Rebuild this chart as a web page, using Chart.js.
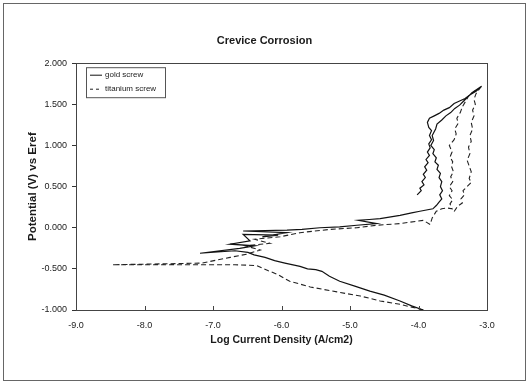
<!DOCTYPE html>
<html>
<head>
<meta charset="utf-8">
<script src="https://cdn.jsdelivr.net/npm/chart.js@4/dist/chart.umd.min.js"></script>
<style>
  html, body { margin: 0; padding: 0; background: #fff; }
  #wrap { width: 529px; height: 384px; }
</style>
</head>
<body>
<div id="wrap"><canvas id="chart" width="529" height="384"></canvas></div>
<script>
// log current density (A/cm2) and potential (V) for each scan
const goldLogI = [-3.93, -4.10, -4.27, -4.50, -4.71, -4.93, -5.15, -5.30, -5.41, -5.50, -5.62, -5.73, -5.95, -6.10,
  -6.24, -6.40, -6.49, -6.68, -7.19, -6.61, -6.39, -6.75, -6.46, -6.56, -6.05, -6.28, -5.92, -6.56, -5.92, -5.70,
  -5.44, -5.15, -4.90, -4.61, -4.88, -4.72, -4.56, -4.27, -4.10, -3.98, -3.79,
  -3.74, -3.70, -3.66, -3.69, -3.65, -3.68, -3.66, -3.70, -3.68, -3.73, -3.71, -3.76, -3.74, -3.79, -3.77, -3.82,
  -3.78, -3.80, -3.75, -3.73, -3.66, -3.60, -3.53, -3.47, -3.40, -3.34, -3.28, -3.22, -3.15, -3.08,
  -3.16, -3.24, -3.32, -3.40, -3.48, -3.55, -3.63, -3.70, -3.77, -3.84, -3.87, -3.85, -3.81, -3.84, -3.81, -3.85,
  -3.83, -3.87, -3.84, -3.89, -3.86, -3.91, -3.88, -3.93, -3.90, -3.95, -3.92, -3.98, -3.96, -4.02];
const goldE = [-1.00, -0.95, -0.89, -0.82, -0.77, -0.71, -0.65, -0.59, -0.53, -0.51, -0.50, -0.47, -0.43, -0.40,
  -0.36, -0.33, -0.30, -0.28, -0.31, -0.25, -0.22, -0.20, -0.16, -0.08, -0.09, -0.11, -0.06, -0.04, -0.03, -0.02,
  0.00, 0.01, 0.03, 0.05, 0.09, 0.10, 0.11, 0.15, 0.18, 0.20, 0.23,
  0.27, 0.31, 0.35, 0.40, 0.45, 0.50, 0.56, 0.61, 0.66, 0.71, 0.76, 0.80, 0.85, 0.90, 0.95, 1.00,
  1.06, 1.12, 1.20, 1.26, 1.31, 1.36, 1.40, 1.45, 1.49, 1.54, 1.59, 1.64, 1.68, 1.72,
  1.66, 1.62, 1.57, 1.54, 1.51, 1.46, 1.43, 1.39, 1.36, 1.33, 1.28, 1.22, 1.18, 1.12, 1.07, 1.02,
  0.97, 0.92, 0.88, 0.83, 0.79, 0.74, 0.70, 0.65, 0.61, 0.56, 0.52, 0.48, 0.45, 0.40];

const titLogI = [-3.93, -4.27, -4.56, -4.85, -5.19, -5.58, -5.88, -5.95, -6.05, -6.20, -6.36, -6.68, -7.30, -8.47,
  -7.16, -6.75, -6.50, -6.31, -6.53, -6.17, -6.39, -6.02, -5.73, -5.29, -4.90, -4.61, -4.27, -3.93, -3.83,
  -3.80, -3.74, -3.66, -3.58, -3.51, -3.54, -3.50, -3.55, -3.51, -3.55, -3.50, -3.53, -3.49, -3.52, -3.50, -3.54,
  -3.51, -3.55, -3.48, -3.45, -3.47, -3.42, -3.44, -3.39, -3.36, -3.31, -3.27, -3.18, -3.10,
  -3.16, -3.19, -3.17, -3.21, -3.19, -3.23, -3.21, -3.25, -3.23, -3.27, -3.25, -3.29, -3.26, -3.23, -3.26, -3.23,
  -3.29, -3.35, -3.33, -3.38, -3.36, -3.43, -3.47, -3.50];
const titE = [-1.00, -0.93, -0.89, -0.83, -0.78, -0.72, -0.65, -0.62, -0.57, -0.52, -0.46, -0.45, -0.45, -0.45,
  -0.43, -0.36, -0.32, -0.27, -0.22, -0.19, -0.14, -0.11, -0.06, -0.02, 0.00, 0.03, 0.05, 0.09, 0.04,
  0.12, 0.20, 0.23, 0.24, 0.23, 0.29, 0.34, 0.39, 0.45, 0.50, 0.56, 0.62, 0.68, 0.75, 0.80, 0.86,
  0.92, 1.00, 1.07, 1.14, 1.20, 1.27, 1.33, 1.40, 1.47, 1.54, 1.60, 1.66, 1.70,
  1.63, 1.56, 1.50, 1.43, 1.36, 1.28, 1.20, 1.12, 1.05, 0.98, 0.90, 0.82, 0.75, 0.68, 0.60, 0.55,
  0.50, 0.45, 0.40, 0.35, 0.30, 0.26, 0.21, 0.17];

const seriesNames = ["gold screw", "titanium screw"];
const xTicks = [-9, -8, -7, -6, -5, -4, -3];
const yTicks = [-1, -0.5, 0, 0.5, 1, 1.5, 2];

function toPoints(xs, ys) {
  return xs.map((x, i) => ({ x: x, y: ys[i] }));
}

const FONT = "'Liberation Sans', Arial, sans-serif";
const INK = "#1a1a1a";

// frame round the whole figure, plot border and the inward x tick marks
const framePlugin = {
  id: "frame",
  beforeDraw(chart) {
    const c = chart.ctx;
    c.save();
    c.fillStyle = "#fff";
    c.fillRect(0, 0, chart.width, chart.height);
    c.strokeStyle = "#666";
    c.lineWidth = 1;
    c.strokeRect(3.5, 3.5, chart.width - 7, chart.height - 7);
    c.restore();
  },
  afterDatasetsDraw(chart) {
    const a = chart.chartArea;
    const c = chart.ctx;
    const xs = chart.scales.x;
    c.save();
    c.strokeStyle = "#444";
    c.lineWidth = 1;
    c.strokeRect(Math.round(a.left) + 0.5, Math.round(a.top) + 0.5,
      Math.round(a.right - a.left), Math.round(a.bottom - a.top));
    c.beginPath();
    xTicks.forEach(v => {
      const px = Math.round(xs.getPixelForValue(v)) + 0.5;
      c.moveTo(px, a.bottom);
      c.lineTo(px, a.bottom - 4);
    });
    c.stroke();
    c.restore();
  }
};

// centre the title on the whole canvas rather than the padded box
const titleCentre = {
  id: "titleCentre",
  afterLayout(chart) {
    const t = chart.titleBlock;
    if (!t) return;
    t.left = 0;
    t.right = chart.width;
    t.width = chart.width;
  }
};

// boxed legend in the top left corner of the plot
const boxLegend = {
  id: "boxLegend",
  afterDraw(chart) {
    const c = chart.ctx;
    const a = chart.chartArea;
    const x0 = a.left + 10, y0 = a.top + 4, w = 79, h = 30;
    c.save();
    c.fillStyle = "#fff";
    c.fillRect(x0, y0, w, h);
    c.strokeStyle = "#555";
    c.lineWidth = 1;
    c.strokeRect(x0 + 0.5, y0 + 0.5, w, h);
    c.font = "8px " + FONT;
    c.textBaseline = "middle";
    chart.data.datasets.forEach((ds, i) => {
      const yy = y0 + 8 + i * 14;
      c.strokeStyle = ds.borderColor;
      c.lineWidth = 1;
      c.setLineDash(ds.borderDash ? [3, 3] : []);
      c.beginPath();
      c.moveTo(x0 + 4, yy);
      c.lineTo(x0 + 16, yy);
      c.stroke();
      c.setLineDash([]);
      c.fillStyle = INK;
      c.fillText(ds.label, x0 + 19, yy);
    });
    c.restore();
  }
};

new Chart(document.getElementById("chart"), {
  type: "scatter",
  data: {
    datasets: [
      {
        label: seriesNames[0],
        data: toPoints(goldLogI, goldE),
        showLine: true,
        borderColor: "#111",
        borderWidth: 1.2,
        pointRadius: 0,
        tension: 0
      },
      {
        label: seriesNames[1],
        data: toPoints(titLogI, titE),
        showLine: true,
        borderColor: "#222",
        borderWidth: 1.1,
        borderDash: [5, 3],
        pointRadius: 0,
        tension: 0
      }
    ]
  },
  options: {
    responsive: false,
    animation: false,
    layout: { padding: { left: 22, right: 42, top: 30, bottom: 34 } },
    plugins: {
      legend: { display: false },
      tooltip: { enabled: false },
      title: {
        display: true,
        text: "Crevice Corrosion",
        color: INK,
        font: { family: FONT, size: 11, weight: "bold" },
        padding: { top: 4, bottom: 16 }
      }
    },
    scales: {
      x: {
        type: "linear",
        min: -9,
        max: -3,
        afterBuildTicks(scale) { scale.ticks = xTicks.map(v => ({ value: v })); },
        afterFit(scale) { scale.height = 40; },
        grid: { display: false, drawTicks: false },
        border: { display: false },
        ticks: {
          color: INK,
          padding: 10,
          maxRotation: 0,
          font: { family: FONT, size: 9 },
          callback: v => v.toFixed(1)
        },
        title: {
          display: true,
          text: "Log Current Density (A/cm2)",
          color: INK,
          font: { family: FONT, size: 10.5, weight: "bold" },
          padding: { top: 2, bottom: 4 }
        }
      },
      y: {
        type: "linear",
        min: -1,
        max: 2,
        afterBuildTicks(scale) { scale.ticks = yTicks.map(v => ({ value: v })); },
        afterFit(scale) { scale.width = 54; },
        grid: { display: true, drawOnChartArea: false, tickLength: 4, color: "#333" },
        border: { display: false },
        ticks: {
          color: INK,
          padding: 5,
          font: { family: FONT, size: 9 },
          callback: v => v.toFixed(3)
        },
        title: {
          display: true,
          text: "Potential (V) vs Eref",
          color: INK,
          font: { family: FONT, size: 11.5, weight: "bold" },
          padding: { top: 4, bottom: 4 }
        }
      }
    }
  },
  plugins: [framePlugin, titleCentre, boxLegend]
});
</script>
</body>
</html>
